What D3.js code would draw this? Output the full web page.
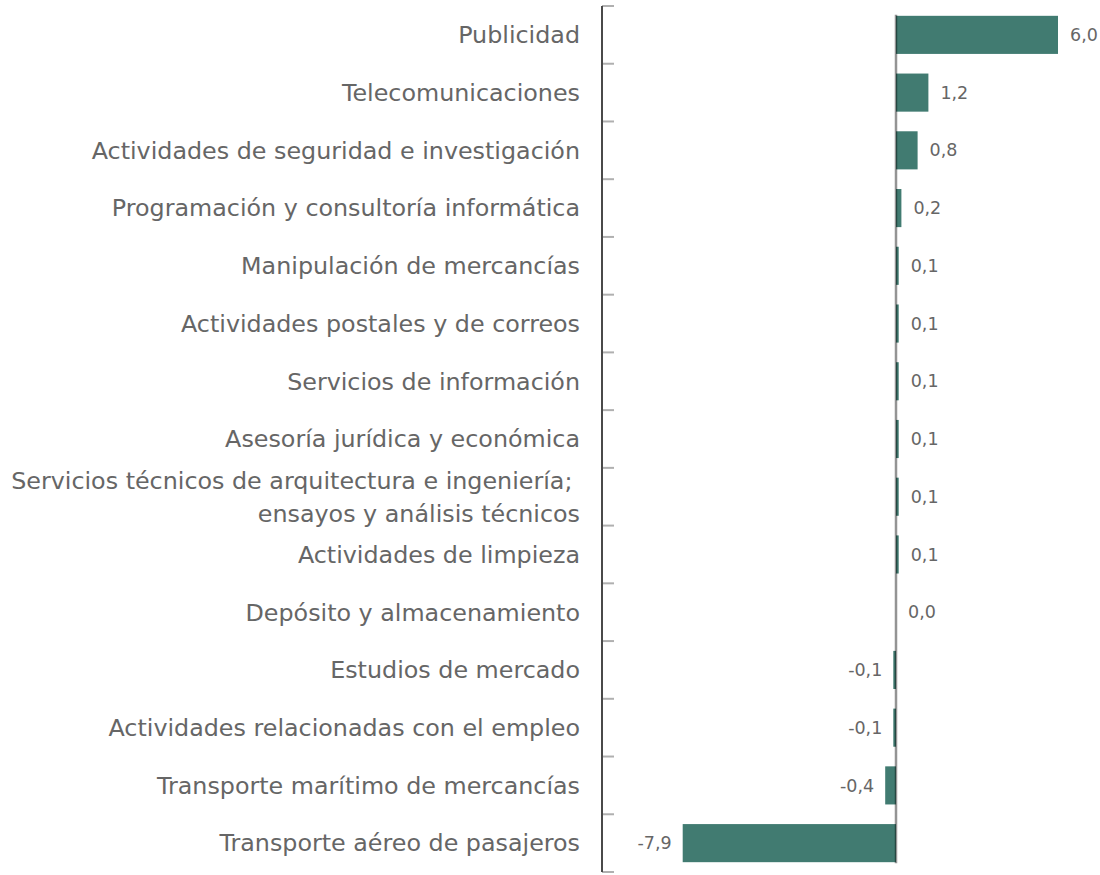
<!DOCTYPE html>
<html>
<head>
<meta charset="utf-8">
<script src="https://cdn.jsdelivr.net/npm/d3@7"></script>
<style>
  html, body { margin: 0; padding: 0; background: #fff; }
  svg { display: block; }
</style>
</head>
<body>
<svg id="chart" width="1100" height="875"></svg>
<script>
const categories = [
  "Publicidad",
  "Telecomunicaciones",
  "Actividades de seguridad e investigación",
  "Programación y consultoría informática",
  "Manipulación de mercancías",
  "Actividades postales y de correos",
  "Servicios de información",
  "Asesoría jurídica y económica",
  "Servicios técnicos de arquitectura e ingeniería; ensayos y análisis técnicos",
  "Actividades de limpieza",
  "Depósito y almacenamiento",
  "Estudios de mercado",
  "Actividades relacionadas con el empleo",
  "Transporte marítimo de mercancías",
  "Transporte aéreo de pasajeros"
];
const values = [6.0, 1.2, 0.8, 0.2, 0.1, 0.1, 0.1, 0.1, 0.1, 0.1, 0.0, -0.1, -0.1, -0.4, -7.9];

const svg = d3.select("#chart");
const font = "'DejaVu Sans', Verdana, sans-serif";

const y = d3.scaleBand()
  .domain(categories)
  .range([6, 872])
  .paddingInner(0.34)
  .paddingOuter(0.17);

const x = d3.scaleLinear()
  .domain([-7.9, 6.0])
  .range([682.7, 1058]);

const fmt = v => d3.format(".1f")(v).replace(".", ",").replace("−", "-");

// bars
svg.append("g").selectAll("rect")
  .data(values)
  .join("rect")
  .attr("x", d => Math.min(x(d), x(0)))
  .attr("y", (d, i) => y(categories[i]))
  .attr("width", d => Math.abs(x(d) - x(0)))
  .attr("height", y.bandwidth())
  .attr("fill", "#417b71");

// zero line
const x0 = x(0);
svg.append("line")
  .attr("x1", x0).attr("x2", x0)
  .attr("y1", y(categories[0]) - 1)
  .attr("y2", y(categories[categories.length - 1]) + y.bandwidth() + 1)
  .attr("stroke", "rgba(0,0,0,0.42)")
  .attr("stroke-width", 2.5);

// value labels
svg.append("g").selectAll("text")
  .data(values)
  .join("text")
  .attr("x", d => d < 0 ? x(d) - 11 : x(d) + 12)
  .attr("y", (d, i) => y(categories[i]) + y.bandwidth() / 2)
  .attr("dy", "0.35em")
  .attr("text-anchor", d => d < 0 ? "end" : "start")
  .attr("font-family", font)
  .attr("font-size", 17.5)
  .attr("fill", "#666666")
  .text(d => fmt(d));

// left axis with ticks at band boundaries
const axisX = 602;
const step = y.step();
const start = y.range()[0];
const boundaries = d3.range(categories.length + 1).map(i => start + i * step);

svg.append("g").selectAll("line")
  .data(boundaries)
  .join("line")
  .attr("x1", axisX).attr("x2", axisX + 12)
  .attr("y1", d => d).attr("y2", d => d)
  .attr("stroke", "#b0b0b0")
  .attr("stroke-width", 2);

svg.append("line")
  .attr("x1", axisX).attr("x2", axisX)
  .attr("y1", start).attr("y2", start + categories.length * step)
  .attr("stroke", "#4a4a4a")
  .attr("stroke-width", 2);

// category labels
const labels = svg.append("g");
categories.forEach((c, i) => {
  const cy = y(c) + y.bandwidth() / 2;
  const idx = c.indexOf("; ");
  const lines = idx >= 0 ? [c.slice(0, idx + 1) + "\u00a0", c.slice(idx + 2)] : [c];
  const lh = 33;
  const t = labels.append("text")
    .attr("text-anchor", "end")
    .attr("font-family", font)
    .attr("font-size", 23.8)
    .attr("fill", "#666666");
  lines.forEach((ln, k) => {
    t.append("tspan")
      .attr("x", 580)
      .attr("y", cy + (k - (lines.length - 1) / 2) * lh)
      .attr("dy", "0.35em")
      .text(ln);
  });
});
</script>
</body>
</html>
